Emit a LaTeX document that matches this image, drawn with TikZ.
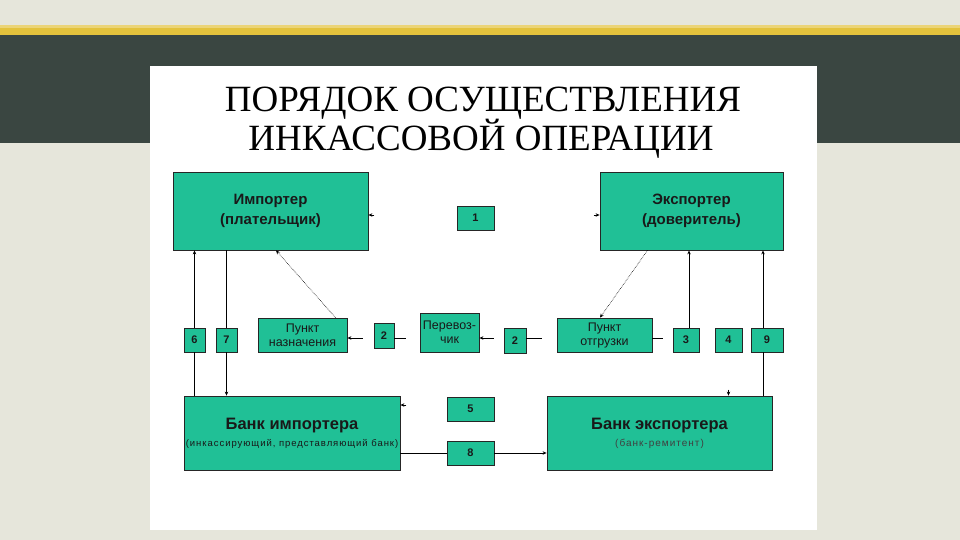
\documentclass[tikz,border=0pt]{standalone}
\usepackage{fontspec}
\setmainfont{Liberation Sans}
\newfontfamily\titlefont{Liberation Serif}
\newfontfamily\widefont[LetterSpace=10]{Liberation Sans}
\usetikzlibrary{arrows.meta}
\definecolor{slidebg}{HTML}{E6E6DB}
\definecolor{chalk}{HTML}{3A4641}
\definecolor{stripe}{HTML}{E3C23C}
\definecolor{boxfill}{HTML}{20C096}
\tikzset{
  >={Stealth[length=4pt,width=3.5pt]},
  blk/.style={draw=black!85,fill=boxfill,line width=0.8pt,inner sep=0pt,align=center,text=black!90},
  party/.style={blk,font=\bfseries\fontsize{15}{20}\selectfont},
  point/.style={blk,font=\fontsize{12.5}{14}\selectfont},
  num/.style={blk,font=\bfseries\fontsize{11}{12}\selectfont},
  bank/.style={blk,font=\bfseries\fontsize{16.5}{18}\selectfont},
  heading/.style={anchor=base,font=\titlefont\fontsize{37}{40}\selectfont},
  line/.style={line width=0.8pt,black},
  dots/.style={line width=0.6pt,densely dotted,black}
}
\begin{document}
\begin{tikzpicture}[x=1pt,y=-1pt]
\useasboundingbox (0,0) rectangle (960,540);
% slide background
\fill[slidebg] (0,0) rectangle (960,540);
\fill[stripe!70!white] (0,25) rectangle (960,28);
\fill[stripe] (0,28) rectangle (960,35);
\fill[chalk] (0,35) rectangle (960,143);
\fill[white] (150,66) rectangle (817,530);

\node[heading] (title1) at (483,112) {ПОРЯДОК ОСУЩЕСТВЛЕНИЯ};
\node[heading] (title2) at (481,151) {ИНКАССОВОЙ ОПЕРАЦИИ};

\node[party,minimum width=195pt,minimum height=78pt] (imp) at (270.5,211) {Импортер\\(плательщик)};
\node[party,minimum width=183pt,minimum height=78pt] (exp) at (691.5,211) {Экспортер\\(доверитель)};
\node[num,minimum width=37pt,minimum height=24pt] (n1) at (475.5,218) {1};

\node[num,minimum width=21pt,minimum height=24pt] (n6) at (194.5,340) {6};
\node[num,minimum width=21pt,minimum height=24pt] (n7) at (226.5,340) {7};
\node[point,minimum width=89pt,minimum height=34pt] (naz) at (302.5,335) {Пункт\\назначения};
\node[num,minimum width=20pt,minimum height=25pt] (n2a) at (384,335.5) {2};
\node[point,minimum width=59pt,minimum height=39pt] (perev) at (449.5,332.5) {Перевоз-\\чик};
\node[num,minimum width=22pt,minimum height=25pt] (n2b) at (515,340.5) {2};
\node[point,minimum width=95pt,minimum height=34pt] (otgr) at (604.5,335) {Пункт\\отгрузки};
\node[num,minimum width=26pt,minimum height=24pt] (n3) at (686,340) {3};
\node[num,minimum width=27pt,minimum height=24pt] (n4) at (728.5,340) {4};
\node[num,minimum width=32pt,minimum height=24pt] (n9) at (767,340) {9};

\node[bank,minimum width=216pt,minimum height=74pt] (bimp) at (292,433) {Банк импортера\\[-1pt]{\widefont\mdseries\fontsize{9.5}{11}\selectfont(инкассирующий, представляющий банк)}};
\node[num,minimum width=47pt,minimum height=24pt] (n5) at (470.5,409) {5};
\node[num,minimum width=47pt,minimum height=24pt] (n8) at (470.5,453) {8};
\node[bank,minimum width=225pt,minimum height=74pt] (bexp) at (659.5,433) {Банк экспортера\\[-1pt]{\widefont\mdseries\color{black!75}\fontsize{10}{11}\selectfont(банк-ремитент)}};

\coordinate (route) at (0,338);
\coordinate (b4) at (n4.south |- bexp.north);

% left side
\draw[line] (n6.south |- bimp.north) -- (n6.south);
\draw[line,->] (n6.north) -- (n6.north |- imp.south);
\draw[line] (n7.north |- imp.south) -- (n7.north);
\draw[line,->] (n7.south) -- (n7.south |- bimp.north);
\draw[dots,->] ([xshift=33pt]naz.north) -- ([xshift=5.5pt]imp.south);
% goods route
\draw[line,->] (n2a.west |- route) ++(-11,0) -- (naz.east |- route);
\draw[line] (n2a.east |- route) -- ++(12,0);
\draw[line,->] (n2b.west |- route) ++(-10,0) -- (perev.east |- route);
\draw[line] (n2b.east |- route) -- ++(16,0);
\draw[line] (otgr.east |- route) -- ++(11,0);
\draw[dots,->] ([xshift=-44pt]exp.south) -- ([xshift=-4.5pt]otgr.north);
% right side
\draw[line,->] ([xshift=3pt]n3.north) -- ([xshift=3pt]n3.north |- exp.south);
\draw[line,->] ([xshift=-4pt]n9.north) -- ([xshift=-4pt]n9.north |- exp.south);
\draw[line] ([xshift=-4pt]n9.south) -- ([xshift=-4pt]n9.south |- bexp.north);
% arrow stubs
\draw[line,->] ([xshift=6pt,yshift=-4pt]imp.east) -- ([yshift=-4pt]imp.east);
\draw[line,->] ([xshift=-6pt,yshift=-4pt]exp.west) -- ([yshift=-4pt]exp.west);
\draw[line,->] ([xshift=6pt,yshift=28pt]bimp.east) -- ([yshift=28pt]bimp.east);
\draw[line,->] ([yshift=6pt]b4) -- (b4);
% documents
\draw[line] (n8.west -| bimp.east) -- (n8.west);
\draw[line,->] (n8.east) -- (n8.east -| bexp.west);
\end{tikzpicture}
\end{document}
